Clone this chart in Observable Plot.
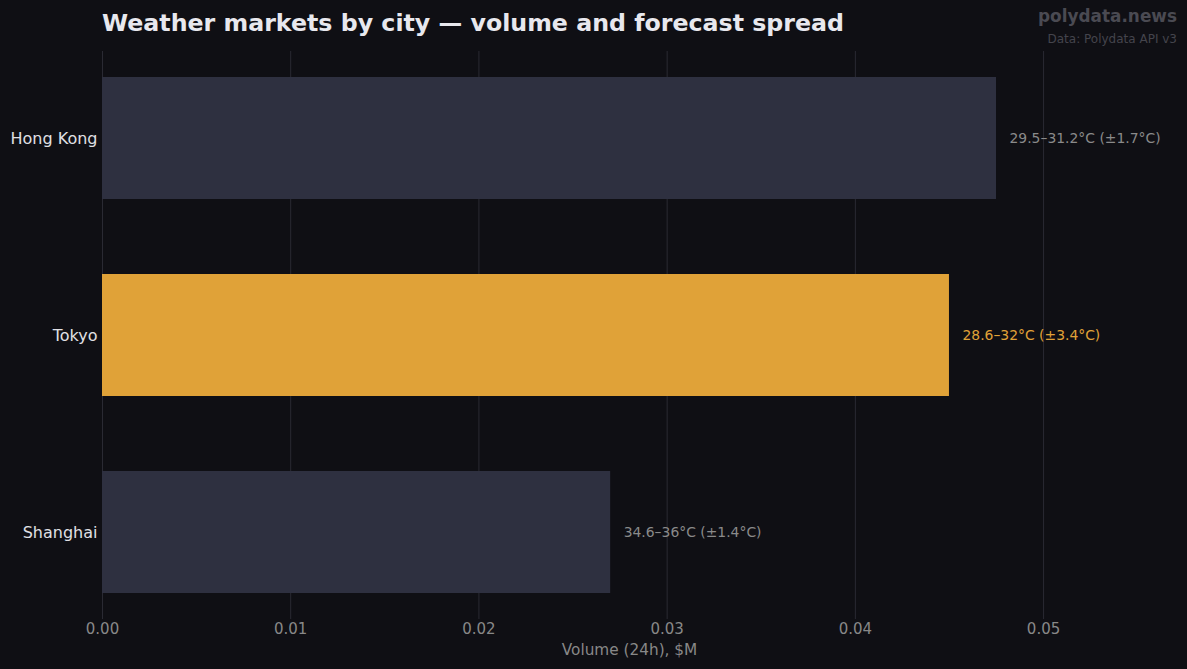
<!DOCTYPE html>
<html>
<head>
<meta charset="utf-8">
<script src="https://cdn.jsdelivr.net/npm/d3@7"></script>
<script src="https://cdn.jsdelivr.net/npm/@observablehq/plot@0.6"></script>
<style>
  html, body { margin: 0; padding: 0; background: #0f0f14; }
  #wrap { position: relative; width: 1187px; height: 669px; background: #0f0f14; font-family: "DejaVu Sans", sans-serif; }
  .abs { position: absolute; white-space: nowrap; line-height: 1; }
  #title { left: 102px; top: 12px; font-size: 23.7px; font-weight: bold; color: #e8e8ee; }
  #brand { right: 10px; top: 8px; font-size: 16.9px; font-weight: bold; color: #4a4a52; }
  #source { right: 10px; top: 33px; font-size: 12px; color: #44444c; }
</style>
</head>
<body>
<div id="wrap">
  <div id="chart"></div>
  <div class="abs" id="title">Weather markets by city — volume and forecast spread</div>
  <div class="abs" id="brand">polydata.news</div>
  <div class="abs" id="source">Data: Polydata API v3</div>
</div>
<script>
const cities = ["Hong Kong", "Tokyo", "Shanghai"];
const volumes = [0.0475, 0.0450, 0.0270];
const spreadLabels = ["29.5–31.2°C (±1.7°C)", "28.6–32°C (±3.4°C)", "34.6–36°C (±1.4°C)"];
const highlighted = [false, true, false];
const xTicks = [0, 0.01, 0.02, 0.03, 0.04, 0.05];

const rows = cities.map((c, i) => ({city: c, volume: volumes[i], label: spreadLabels[i], hi: highlighted[i]}));

const plot = Plot.plot({
  width: 1187,
  height: 669,
  marginTop: 52,
  marginBottom: 50,
  marginLeft: 102,
  marginRight: 31,
  style: {background: "#0f0f14", fontFamily: "DejaVu Sans, sans-serif", color: "#888", overflow: "visible"},
  x: {domain: [0, 0.056], ticks: xTicks, tickFormat: d3.format(".2f"), label: null},
  y: {domain: cities, paddingInner: 0.38, paddingOuter: 0.129, label: null},
  marks: [
    Plot.ruleX(xTicks, {stroke: "#2a2a33", strokeWidth: 1, insetTop: -1}),
    Plot.barX(rows, {y: "city", x: "volume", fill: d => d.hi ? "#e0a238" : "#2e3040"}),
    Plot.text(rows, {y: "city", x: "volume", text: "label", dx: 13, textAnchor: "start",
      fill: d => d.hi ? "#e0a238" : "#8a8a8a", fontSize: 13.9}),
    Plot.axisX({ticks: xTicks, tickFormat: d3.format(".2f"), tickSize: 0, tickPadding: 4, fontSize: 15, color: "#888", label: null}),
    Plot.axisY({tickSize: 0, tickPadding: 5, fontSize: 16, color: "#e0e0e4", label: null}),
    Plot.text(["Volume (24h), $M"], {frameAnchor: "bottom", dy: 35, fontSize: 15.3, fill: "#888"})
  ]
});
document.getElementById("chart").appendChild(plot);
</script>
</body>
</html>
